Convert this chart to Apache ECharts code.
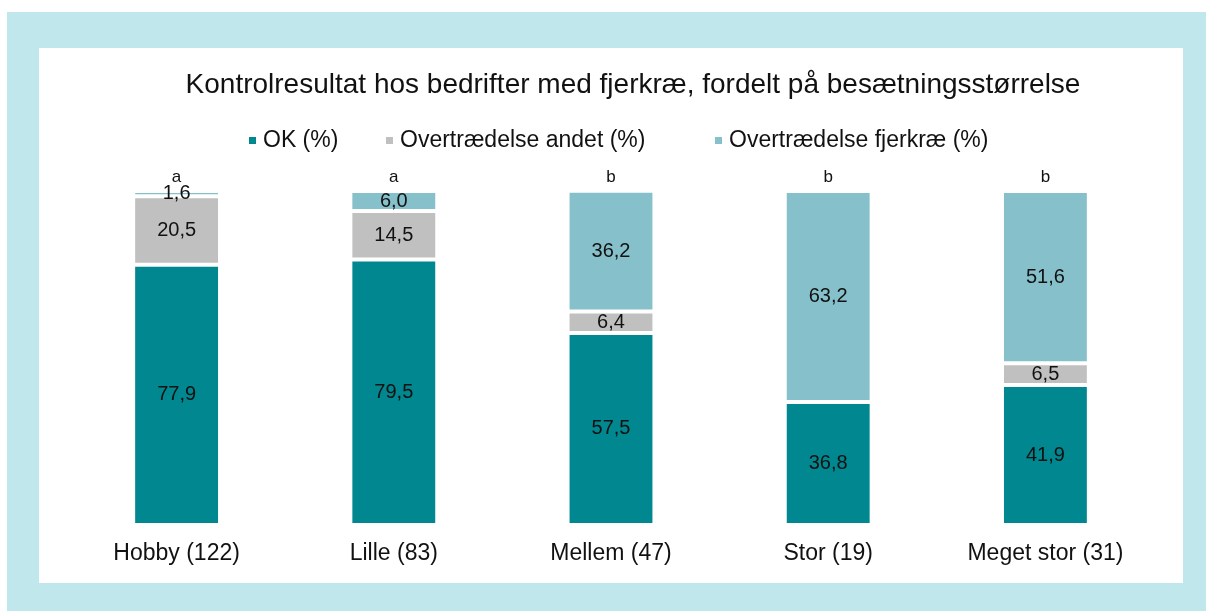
<!DOCTYPE html>
<html>
<head>
<meta charset="utf-8">
<script src="https://cdn.jsdelivr.net/npm/echarts@6/dist/echarts.min.js"></script>
<style>
  html, body { margin: 0; padding: 0; background: #fff; }
  #chart { width: 1206px; height: 611px; }
</style>
</head>
<body>
<div id="chart"></div>
<script>
// data
const categories = ["Hobby (122)", "Lille (83)", "Mellem (47)", "Stor (19)", "Meget stor (31)"];
const seriesNames = ["OK (%)", "Overtrædelse andet (%)", "Overtrædelse fjerkræ (%)"];
const okValues = [77.9, 79.5, 57.5, 36.8, 41.9];
const andetValues = [20.5, 14.5, 6.4, 0, 6.5];
const fjerkraeValues = [1.6, 6.0, 36.2, 63.2, 51.6];
const groupLetters = ["a", "a", "b", "b", "b"];

const FONT = "Liberation Sans, Arial, sans-serif";
const legendLeft = [247, 384, 713];

function fmt(v) {
  return v.toFixed(1).replace(".", ",");
}

function segment(name, values, color) {
  return {
    name: name,
    type: "bar",
    stack: "total",
    barWidth: "40%",
    clip: false,
    data: values,
    itemStyle: { color: color, borderColor: "#fff", borderWidth: 2 },
    label: {
      show: true,
      position: "inside",
      color: "#111",
      fontSize: 20,
      fontFamily: FONT,
      formatter: (p) => (p.value > 0 ? fmt(p.value) : ""),
    },
  };
}

const chart = echarts.init(document.getElementById("chart"));
const option = {
  animation: false,
  textStyle: { fontFamily: FONT },
  graphic: [
    { type: "rect", z: -10, shape: { x: 7, y: 12, width: 1199, height: 599 }, style: { fill: "#C0E7EB" } },
    { type: "rect", z: -9, shape: { x: 39, y: 48, width: 1144, height: 535 }, style: { fill: "#fff" } },
  ],
  title: {
    text: "Kontrolresultat hos bedrifter med fjerkræ, fordelt på besætningsstørrelse",
    left: 628,
    textAlign: "center",
    top: 66,
    textStyle: { fontSize: 28, fontWeight: "normal", color: "#111", fontFamily: FONT },
  },
  // Excel spaces the legend items unevenly, so one legend per item
  legend: seriesNames.map((name, i) => ({
    data: [name],
    top: 129,
    left: legendLeft[i],
    padding: 0,
    itemWidth: 9,
    itemHeight: 9,
    icon: "rect",
    textStyle: { fontSize: 23, color: "#111", fontFamily: FONT, padding: [0, 0, 0, 1] },
  })),
  grid: { left: 68, right: 52, top: 191, bottom: 86 },
  xAxis: {
    type: "category",
    data: categories,
    axisLine: { show: false },
    axisTick: { show: false },
    axisLabel: { fontSize: 23, color: "#111", margin: 17, fontFamily: FONT },
  },
  yAxis: { type: "value", min: 0, max: 100, show: false },
  series: [
    segment(seriesNames[0], okValues, "#00878F"),
    segment(seriesNames[1], andetValues, "#C0C0C0"),
    segment(seriesNames[2], fjerkraeValues, "#86C0CA"),
    {
      name: "letters",
      type: "bar",
      stack: "total",
      barWidth: "40%",
      clip: false,
      data: groupLetters.map(() => 0),
      itemStyle: { color: "transparent" },
      label: {
        show: true,
        position: "top",
        distance: 5,
        color: "#111",
        fontSize: 17,
        fontFamily: FONT,
        formatter: (p) => groupLetters[p.dataIndex],
      },
    },
  ],
};
chart.setOption(option);
</script>
</body>
</html>
